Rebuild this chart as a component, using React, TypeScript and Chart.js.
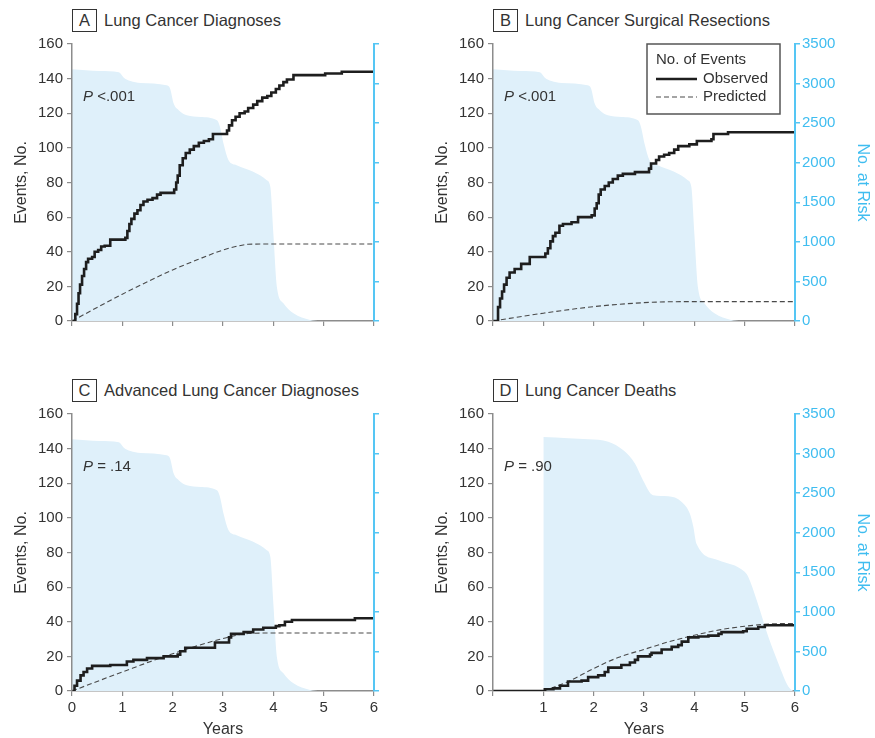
import React, { useEffect, useRef } from 'react';
import { Chart, registerables } from 'chart.js';

Chart.register(...registerables);

// ---------- DATA ----------
const yearTicks = [0, 1, 2, 3, 4, 5, 6];
const eventTicks = [0, 20, 40, 60, 80, 100, 120, 140, 160];
const riskTicks = [0, 500, 1000, 1500, 2000, 2500, 3000, 3500];

// No. at risk (panels A, B, C share the same cohort)
const riskYearsABC = [0, 0.55, 0.93, 1.03, 1.16, 1.36, 1.88, 1.95, 2.02, 2.12, 2.28, 2.55, 2.88, 2.94, 3.01, 3.11, 3.27, 3.6, 3.87, 3.94, 4.0, 4.07, 4.2, 4.4, 4.73, 4.93, 6];
const riskABC = [3181, 3159, 3142, 3075, 3033, 3008, 2978, 2936, 2747, 2663, 2600, 2579, 2537, 2452, 2242, 2032, 1969, 1885, 1780, 1695, 1106, 433, 223, 97, 13, 0, 0];
// No. at risk (panel D)
const riskYearsD = [1, 1.5, 1.9, 2.29, 2.59, 2.82, 2.98, 3.18, 3.48, 3.75, 3.91, 3.98, 4.04, 4.48, 5.0, 5.07, 5.24, 5.47, 5.67, 5.87, 5.97];
const riskD = [3210, 3195, 3180, 3150, 3041, 2873, 2663, 2474, 2461, 2389, 2242, 2074, 1864, 1653, 1506, 1443, 1148, 686, 349, 55, 0];

// A: Lung cancer diagnoses
const obsYearsA = [0, 0.066, 0.1, 0.13, 0.16, 0.2, 0.24, 0.28, 0.32, 0.4, 0.45, 0.52, 0.58, 0.65, 0.76, 1.06, 1.1, 1.14, 1.18, 1.24, 1.3, 1.36, 1.42, 1.5, 1.6, 1.69, 1.76, 2.03, 2.07, 2.1, 2.14, 2.2, 2.26, 2.34, 2.42, 2.52, 2.62, 2.72, 2.8, 3.08, 3.12, 3.18, 3.25, 3.33, 3.43, 3.5, 3.6, 3.68, 3.78, 3.88, 3.96, 4.05, 4.12, 4.2, 4.27, 4.4, 5.03, 5.36, 6];
const obsA = [0, 4, 10, 16, 21, 26, 30, 34, 36, 37, 40, 41, 43, 43.5, 47, 48, 52, 56, 59, 62, 64, 67, 69, 70, 71, 73, 74, 76, 80, 84, 90, 94, 97, 99, 101, 103, 104, 105, 108, 110, 113, 116, 118, 120, 121, 123, 125, 127, 129, 130, 132, 134, 136, 138, 139.5, 142, 143, 144, 144];
const predYearsA = [0, 1, 2, 2.5, 3, 3.25, 3.5, 4, 6];
const predA = [0, 15.5, 29.5, 35.5, 41, 43, 44.3, 44.5, 44.5];

// B: Lung cancer surgical resections
const obsYearsB = [0, 0.07, 0.1, 0.14, 0.18, 0.22, 0.27, 0.33, 0.43, 0.56, 0.73, 1.04, 1.09, 1.14, 1.19, 1.24, 1.32, 1.39, 1.56, 1.69, 1.96, 2.02, 2.06, 2.1, 2.14, 2.22, 2.3, 2.38, 2.48, 2.58, 2.82, 3.1, 3.14, 3.24, 3.3, 3.4, 3.5, 3.6, 3.68, 3.9, 4.05, 4.34, 4.38, 4.67, 6];
const obsB = [0, 0, 8, 13, 17, 21, 25, 28, 30, 33, 37, 39, 42, 46, 49, 51, 55, 56, 57, 60, 61, 65, 68, 73, 76, 78, 80, 82, 84, 85, 86, 88, 91, 93, 95, 96, 97, 99, 101, 102, 104, 105, 108, 109, 109];
const predYearsB = [0, 1, 2, 3, 3.5, 4, 6];
const predB = [0, 4.5, 8.3, 10.6, 11.1, 11.2, 11.2];

// C: Advanced lung cancer diagnoses
const obsYearsC = [0, 0.05, 0.1, 0.17, 0.23, 0.3, 0.4, 0.76, 1.06, 1.09, 1.22, 1.49, 1.82, 2.1, 2.15, 2.25, 2.78, 2.84, 3.08, 3.12, 3.16, 3.41, 3.6, 3.8, 4.05, 4.12, 4.23, 4.37, 5.62, 6];
const obsC = [0, 3, 6, 9, 11, 13, 14.5, 15, 15, 17, 18, 19, 20, 21, 23, 25, 25, 28, 28, 31, 33, 34, 35.5, 36.5, 37.5, 38, 40, 41, 42, 42];
const predYearsC = [0, 1, 2, 3, 3.5, 4, 6];
const predC = [0, 11, 21.5, 30.3, 33.2, 33.5, 33.5];

// D: Lung cancer deaths
const obsYearsD = [0, 1.0, 1.03, 1.2, 1.33, 1.49, 1.76, 1.89, 2.09, 2.22, 2.29, 2.55, 2.72, 2.82, 2.88, 3.12, 3.15, 3.35, 3.55, 3.68, 3.75, 3.88, 4.08, 4.28, 4.48, 4.54, 4.97, 5.04, 5.27, 5.4, 6];
const obsD = [0, 0, 1, 1.5, 3, 5.5, 6, 8, 9, 11, 13.5, 15, 16.5, 18, 20, 21, 22, 24, 25.5, 26.5, 28.5, 31, 31.5, 32, 33, 34, 34.5, 36, 37, 38, 38];
const predYearsD = [1, 1.5, 2, 2.5, 3, 3.5, 4, 4.5, 5, 5.5, 6];
const predD = [0, 5.5, 13, 19.5, 24, 28.5, 32.2, 35.3, 37.4, 38.7, 39];

const pTexts = { A: ' <.001', B: ' <.001', C: ' = .14', D: ' = .90' };
const panelTitles = {
  A: 'Lung Cancer Diagnoses',
  B: 'Lung Cancer Surgical Resections',
  C: 'Advanced Lung Cancer Diagnoses',
  D: 'Lung Cancer Deaths',
};
const legendTitle = 'No. of Events';
const legendLabels = ['Observed', 'Predicted'];

// ---------- STYLE ----------
const FONT = '"Liberation Sans", Arial, Helvetica, sans-serif';
const TEXT = '#333333';
const GRAY = '#8c8c8c';
const BLUE = '#55c6f4';
const BLUE_TEXT = '#3fbdf0';
const FILL = '#dff0fa';

type PanelCfg = {
  key: 'A' | 'B' | 'C' | 'D';
  left: number; top: number; width: number; height: number;
  leftW: number; rightW: number; bottomH: number;
  yTitlePad: number; xLabels: boolean; hideZero: boolean; rightLabels: boolean;
  legend: boolean;
  obsX: number[]; obsY: number[]; predX: number[]; predY: number[]; riskX: number[]; riskY: number[];
};

const xy = (xs: number[], ys: number[]) => xs.map((x, i) => ({ x, y: ys[i] }));

const panels: PanelCfg[] = [
  { key: 'A', left: 0, top: 36, width: 430, height: 304, leftW: 72, rightW: 56, bottomH: 19, yTitlePad: 14, xLabels: false, hideZero: false, rightLabels: false, legend: false, obsX: obsYearsA, obsY: obsA, predX: predYearsA, predY: predA, riskX: riskYearsABC, riskY: riskABC },
  { key: 'B', left: 430, top: 36, width: 445, height: 304, leftW: 63, rightW: 80, bottomH: 19, yTitlePad: 5, xLabels: false, hideZero: false, rightLabels: true, legend: true, obsX: obsYearsB, obsY: obsB, predX: predYearsB, predY: predB, riskX: riskYearsABC, riskY: riskABC },
  { key: 'C', left: 0, top: 406, width: 430, height: 332, leftW: 72, rightW: 56, bottomH: 47, yTitlePad: 14, xLabels: true, hideZero: false, rightLabels: false, legend: false, obsX: obsYearsC, obsY: obsC, predX: predYearsC, predY: predC, riskX: riskYearsABC, riskY: riskABC },
  { key: 'D', left: 430, top: 406, width: 445, height: 332, leftW: 63, rightW: 80, bottomH: 47, yTitlePad: 5, xLabels: true, hideZero: true, rightLabels: true, legend: false, obsX: obsYearsD, obsY: obsD, predX: predYearsD, predY: predD, riskX: riskYearsD, riskY: riskD },
];

function Panel({ cfg }: { cfg: PanelCfg }) {
  const ref = useRef<HTMLCanvasElement | null>(null);
  useEffect(() => {
    if (!ref.current) return;
    const annot = {
      id: 'annot' + cfg.key,
      afterDraw(chart: any) {
        const { ctx, chartArea } = chart;
        ctx.save();
        ctx.fillStyle = TEXT;
        ctx.textBaseline = 'middle';
        ctx.textAlign = 'left';
        const px = chartArea.left + 11;
        const py = chartArea.top + 53;
        ctx.font = `italic 15px ${FONT}`;
        ctx.fillText('P', px, py);
        const w = ctx.measureText('P').width;
        ctx.font = `15px ${FONT}`;
        ctx.fillText(pTexts[cfg.key], px + w, py);
        if (cfg.legend) {
          const bx = chartArea.right - 148;
          const by = chartArea.top;
          const bw = 133;
          const bh = 70;
          ctx.fillStyle = '#ffffff';
          ctx.fillRect(bx, by, bw, bh);
          ctx.strokeStyle = '#555555';
          ctx.lineWidth = 1.5;
          ctx.strokeRect(bx, by, bw, bh);
          ctx.fillStyle = TEXT;
          ctx.font = `15px ${FONT}`;
          ctx.fillText(legendTitle, bx + 9, by + 16);
          ctx.beginPath();
          ctx.strokeStyle = '#1e1e1e';
          ctx.lineWidth = 2.4;
          ctx.moveTo(bx + 9, by + 35);
          ctx.lineTo(bx + 50, by + 35);
          ctx.stroke();
          ctx.beginPath();
          ctx.strokeStyle = '#4a4a4a';
          ctx.lineWidth = 1.1;
          ctx.setLineDash([5, 3]);
          ctx.moveTo(bx + 9, by + 53);
          ctx.lineTo(bx + 50, by + 53);
          ctx.stroke();
          ctx.setLineDash([]);
          ctx.fillText(legendLabels[0], bx + 56, by + 35);
          ctx.fillText(legendLabels[1], bx + 56, by + 53);
        }
        ctx.restore();
      },
    };
    const chart = new Chart(ref.current, {
      type: 'line',
      data: {
        datasets: [
          { label: legendLabels[0], data: xy(cfg.obsX, cfg.obsY), borderColor: '#1e1e1e', borderWidth: 2.6, stepped: true, pointRadius: 0, yAxisID: 'y', order: 0, fill: false },
          { label: legendLabels[1], data: xy(cfg.predX, cfg.predY), borderColor: '#4a4a4a', borderWidth: 1.1, borderDash: [5, 3], cubicInterpolationMode: 'monotone', pointRadius: 0, yAxisID: 'y', order: 1, fill: false },
          { label: 'No. at Risk', data: xy(cfg.riskX, cfg.riskY), borderWidth: 0, borderColor: 'rgba(0,0,0,0)', backgroundColor: FILL, fill: 'origin', cubicInterpolationMode: 'monotone', pointRadius: 0, yAxisID: 'y1', order: 2 },
        ] as any,
      },
      options: {
        animation: false,
        responsive: false,
        maintainAspectRatio: false,
        events: [],
        layout: { padding: { top: 8, left: 0, right: 0, bottom: 0 } },
        plugins: { legend: { display: false }, tooltip: { enabled: false } },
        scales: {
          x: {
            type: 'linear', position: 'bottom', min: 0, max: 6,
            afterBuildTicks: (s: any) => { s.ticks = yearTicks.map((v) => ({ value: v })); },
            ticks: {
              color: TEXT, font: { family: FONT, size: 15 }, padding: 3, maxRotation: 0, autoSkip: false,
              callback: (v: any) => (!cfg.xLabels ? '' : cfg.hideZero && v === 0 ? '' : String(v)),
            },
            grid: { drawOnChartArea: false, drawTicks: true, tickLength: 5, color: GRAY, lineWidth: 1.2 },
            border: { display: true, color: GRAY, width: 1.5, z: 0 },
            title: { display: cfg.xLabels, text: 'Years', color: TEXT, font: { family: FONT, size: 16, lineHeight: 1 }, padding: { top: 0, bottom: 0 } },
            afterFit: (s: any) => { s.height = cfg.bottomH; s.paddingLeft = 0; s.paddingRight = 0; },
          },
          y: {
            type: 'linear', position: 'left', min: 0, max: 160,
            afterBuildTicks: (s: any) => { s.ticks = eventTicks.map((v) => ({ value: v })); },
            ticks: { color: TEXT, font: { family: FONT, size: 15 }, padding: 4 },
            grid: { drawOnChartArea: false, drawTicks: true, tickLength: 5, color: GRAY, lineWidth: 1.2 },
            border: { display: true, color: GRAY, width: 1.5, z: 1 },
            title: { display: true, text: 'Events, No.', color: TEXT, font: { family: FONT, size: 16, lineHeight: 1 }, padding: { top: cfg.yTitlePad, bottom: 0 } },
            afterFit: (s: any) => { s.width = cfg.leftW; s.paddingTop = 0; s.paddingBottom = 0; },
          },
          y1: {
            type: 'linear', position: 'right', min: 0, max: 3500,
            afterBuildTicks: (s: any) => { s.ticks = riskTicks.map((v) => ({ value: v })); },
            ticks: { color: BLUE_TEXT, font: { family: FONT, size: 15 }, padding: 2, callback: (v: any) => (cfg.rightLabels ? String(v) : '') },
            grid: { drawOnChartArea: false, drawTicks: true, tickLength: 5, color: BLUE, lineWidth: 1.5 },
            border: { display: true, color: BLUE, width: 2, z: 1 },
            title: { display: cfg.rightLabels, text: 'No. at Risk', color: BLUE_TEXT, font: { family: FONT, size: 16, lineHeight: 1 }, padding: { top: 5, bottom: 0 } },
            afterFit: (s: any) => { s.width = cfg.rightW; s.paddingTop = 0; s.paddingBottom = 0; },
          },
        },
      } as any,
      plugins: [annot],
    });
    return () => chart.destroy();
  }, [cfg]);
  return (
    <canvas
      ref={ref}
      width={cfg.width}
      height={cfg.height}
      style={{ position: 'absolute', left: cfg.left, top: cfg.top, width: cfg.width, height: cfg.height, display: 'block' }}
    />
  );
}

function PanelTitle({ letter, text, left, top }: { letter: string; text: string; left: number; top: number }) {
  return (
    <div style={{ position: 'absolute', left, top, height: 23, display: 'flex', alignItems: 'center', fontFamily: FONT, color: TEXT, whiteSpace: 'nowrap' }}>
      <div style={{ width: 23, height: 21, border: '1px solid #333', display: 'flex', alignItems: 'center', justifyContent: 'center', fontSize: 16.5, boxSizing: 'content-box' }}>{letter}</div>
      <div style={{ marginLeft: 7, fontSize: 16.5 }}>{text}</div>
    </div>
  );
}

export default function App() {
  return (
    <div style={{ position: 'absolute', left: 0, top: 0, width: 875, height: 738, overflow: 'hidden', background: '#fff' }}>
      {panels.map((p) => (
        <Panel key={p.key} cfg={p} />
      ))}
      <PanelTitle letter="A" text={panelTitles.A} left={72} top={9} />
      <PanelTitle letter="B" text={panelTitles.B} left={493} top={9} />
      <PanelTitle letter="C" text={panelTitles.C} left={72} top={379} />
      <PanelTitle letter="D" text={panelTitles.D} left={493} top={379} />
    </div>
  );
}
